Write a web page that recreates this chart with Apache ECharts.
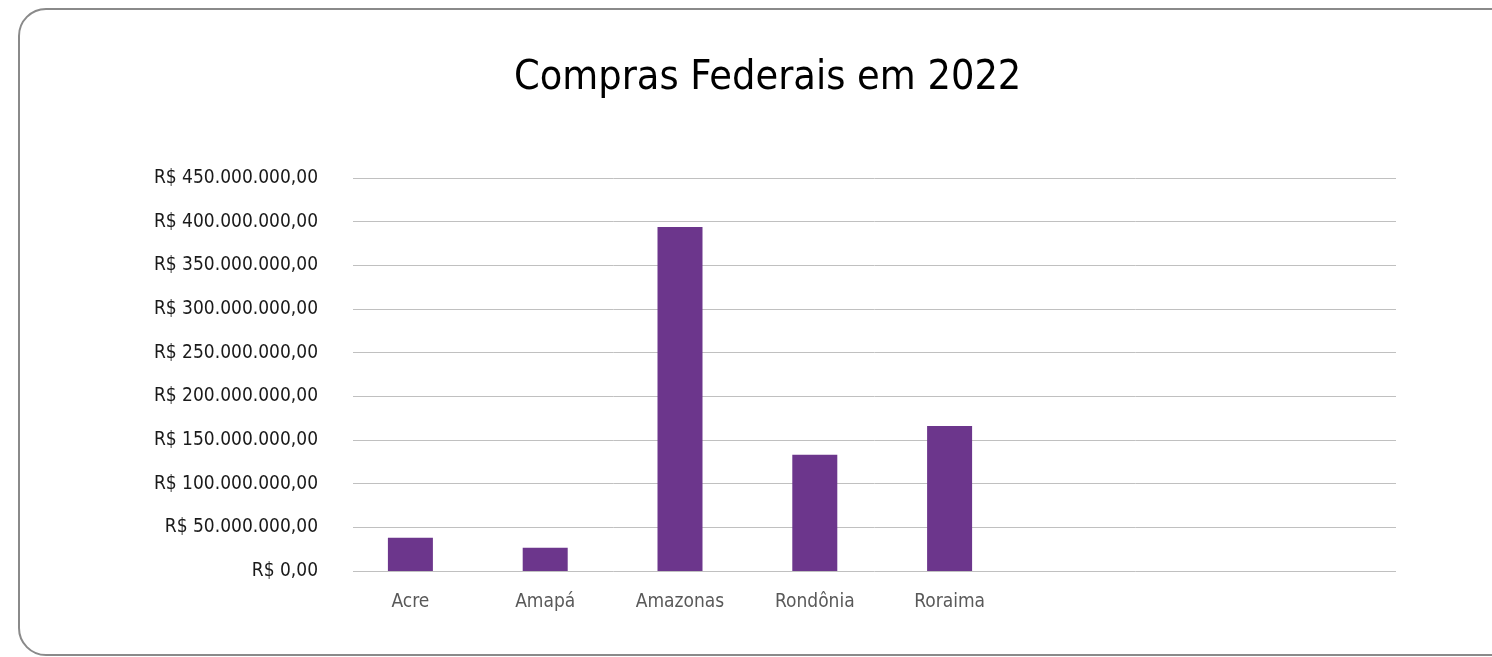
<!DOCTYPE html>
<html>
<head>
<meta charset="utf-8">
<script src="https://cdn.jsdelivr.net/npm/echarts@6/dist/echarts.min.js"></script>
<style>
  html, body { margin: 0; padding: 0; background: #fff; }
  #frame {
    position: absolute; left: 18px; top: 8px; width: 1520px; height: 648px;
    border: 2.5px solid #8a8a8a; border-radius: 28px; box-sizing: border-box;
  }
  #chart { position: absolute; left: 0; top: 0; width: 1492px; height: 657px; }
</style>
</head>
<body>
<div id="frame"></div>
<div id="chart"></div>
<script>
var categories = ['Acre', 'Amapá', 'Amazonas', 'Rondônia', 'Roraima'];
var values = [38000000, 26500000, 394000000, 133000000, 166000000];
var yMax = 450000000;
var yStep = 50000000;

var fontFam = "'Liberation Sans Narrow', 'DejaVu Sans Condensed', sans-serif";

// formato brasileiro: R$ 1.234.567,00
function brl(v) {
    var s = Math.round(v).toString().replace(/\B(?=(\d{3})+(?!\d))/g, '.');
    return 'R$ ' + s + ',00';
}

var chart = echarts.init(document.getElementById('chart'));
var option = {
    backgroundColor: 'transparent',
    animation: false,
    title: {
        text: 'Compras Federais em 2022',
        left: 509,
        top: 53,
        textStyle: { fontFamily: fontFam, fontSize: 41, fontWeight: 'normal', color: '#000' }
    },
    grid: [
        { left: 353, right: 96, top: 178, bottom: 86 },
        { left: 343, width: 674, top: 178, bottom: 86 }
    ],
    xAxis: [
        { type: 'category', gridIndex: 0, data: categories, show: false },
        {
            type: 'category', gridIndex: 1, data: categories,
            axisLine: { show: false },
            axisTick: { show: false },
            axisLabel: { color: '#595959', fontFamily: fontFam, fontSize: 19, margin: 22 }
        }
    ],
    yAxis: [
        {
            type: 'value', gridIndex: 0, min: 0, max: yMax, interval: yStep,
            axisLine: { show: false },
            axisTick: { show: false },
            axisLabel: { color: '#1a1a1a', fontFamily: fontFam, fontSize: 19, margin: 35, formatter: brl },
            splitLine: { lineStyle: { color: '#c0c0c0', width: 1 } }
        },
        { type: 'value', gridIndex: 1, min: 0, max: yMax, interval: yStep, show: false, splitLine: { show: false } }
    ],
    series: [
        {
            type: 'bar',
            xAxisIndex: 1,
            yAxisIndex: 1,
            data: values,
            barWidth: 45,
            itemStyle: { color: '#6c368c' }
        }
    ]
};
chart.setOption(option);
</script>
</body>
</html>
